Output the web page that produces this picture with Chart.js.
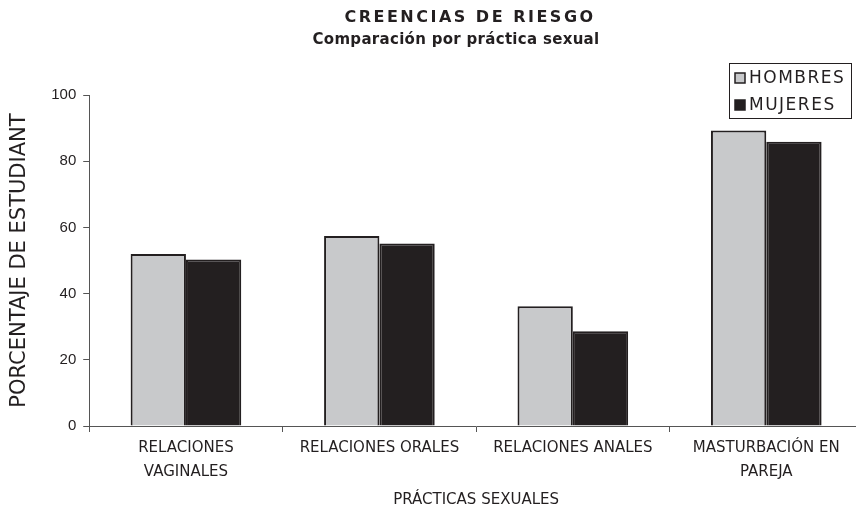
<!DOCTYPE html>
<html>
<head>
<meta charset="utf-8">
<script src="https://cdn.jsdelivr.net/npm/chart.js@4"></script>
<style>
  html, body { margin: 0; padding: 0; background: #fff; overflow: hidden; }
  #wrap { width: 864px; height: 510px; }
</style>
</head>
<body>
<div id="wrap"><canvas id="myChart"></canvas></div>
<script>
'use strict'

// data
const practicas = [['RELACIONES', 'VAGINALES'], 'RELACIONES ORALES', 'RELACIONES ANALES', ['MASTURBACIÓN EN', 'PAREJA']];
const hombres = [52, 57.4, 36.2, 89.3];
const mujeres = [50.3, 55.1, 28.6, 85.9];
const seriesNames = ['HOMBRES', 'MUJERES'];
const titleLines = ['CREENCIAS DE RIESGO', 'Comparación por práctica sexual'];
const yTitle = 'PORCENTAJE DE ESTUDIANT';
const xTitle = 'PRÁCTICAS SEXUALES';

const ink = '#231f20';
const font = 'DejaVu Sans';

// titles + boxed legend, drawn by hand
const decorPlugin = {
  id: 'decor',
  afterDraw(chart) {
    const c = chart.ctx;
    c.save();
    c.fillStyle = ink;
    c.textAlign = 'center';
    c.textBaseline = 'middle';
    c.letterSpacing = '2.5px';
    c.font = 'bold 16px "' + font + '"';
    c.fillText(titleLines[0], 470, 18);
    c.letterSpacing = '0.3px';
    c.font = 'bold 15px "' + font + '"';
    c.fillText(titleLines[1], 456, 40);

    // legend
    c.strokeStyle = ink;
    c.lineWidth = 1;
    c.strokeRect(729.5, 63.5, 122, 55);
    c.textAlign = 'left';
    c.letterSpacing = '1.5px';
    c.font = '17px "' + font + '"';
    chart.data.datasets.forEach((ds, i) => {
      const y = 78 + i * 27;
      c.fillStyle = ds.backgroundColor;
      c.fillRect(735, y - 5, 10, 10);
      c.strokeStyle = ink;
      c.lineWidth = 1.5;
      c.strokeRect(735, y - 5, 10, 10);
      c.fillStyle = ink;
      c.fillText(ds.label, 749, y + 1);
    });
    c.restore();
  }
};

const ctx = document.getElementById('myChart').getContext('2d');
const myChart = new Chart(ctx, {
  type: 'bar',
  data: {
    labels: practicas,
    datasets: [
      {
        label: seriesNames[0],
        data: hombres,
        backgroundColor: '#c8c9cb',
        borderColor: ink,
        borderWidth: 2,
      },
      {
        label: seriesNames[1],
        data: mujeres,
        backgroundColor: ink,
        borderColor: ink,
        borderWidth: 2,
      },
    ],
  },
  options: {
    responsive: true,
    maintainAspectRatio: false,
    animation: false,
    layout: {
      padding: { top: 95, left: 7, right: 1, bottom: 1 },
    },
    datasets: {
      bar: { categoryPercentage: 0.572, barPercentage: 1 },
    },
    scales: {
      x: {
        grid: {
          display: true,
          drawOnChartArea: false,
          drawTicks: true,
          tickLength: 6,
          color: '#555',
        },
        border: { color: '#555', width: 1 },
        ticks: {
          color: ink,
          font: { family: font, size: 15, lineHeight: 1.6 },
          padding: 4,
          maxRotation: 0,
          autoSkip: false,
        },
        title: {
          display: true,
          text: xTitle,
          color: ink,
          font: { family: font, size: 15 },
          padding: { top: 3, bottom: 0 },
        },
      },
      y: {
        min: 0,
        max: 100,
        grid: {
          display: true,
          drawOnChartArea: false,
          drawTicks: true,
          tickLength: 6,
          color: '#555',
        },
        border: { color: '#555', width: 1 },
        ticks: {
          stepSize: 20,
          color: ink,
          font: { family: 'Liberation Sans', size: 15 },
          padding: 7,
        },
        title: {
          display: true,
          text: yTitle,
          color: ink,
          font: { family: font, size: 21 },
          padding: { top: 0, bottom: 12 },
        },
      },
    },
    plugins: {
      legend: { display: false },
      title: { display: false },
      tooltip: { enabled: false },
    },
  },
  plugins: [decorPlugin],
});
</script>
</body>
</html>
